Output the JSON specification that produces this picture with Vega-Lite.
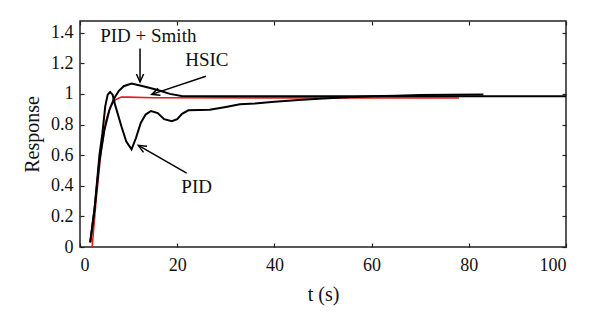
{
  "$schema": "https://vega.github.io/schema/vega-lite/v6.json",
  "width": 486,
  "height": 226,
  "autosize": {"type": "none"},
  "padding": {"left": 80, "top": 21, "right": 34, "bottom": 79},
  "background": "white",
  "config": {
    "view": {"stroke": "#222", "strokeWidth": 1.5},
    "font": "Liberation Serif",
    "text": {"font": "Liberation Serif"},
    "axis": {"grid": false, "domain": false, "labelFont": "Liberation Serif", "titleFont": "Liberation Serif", "labelFontSize": 18, "titleFontSize": 20, "titleFontWeight": "normal", "labelColor": "#111", "titleColor": "#111", "tickColor": "#222", "tickWidth": 1.2}
  },
  "datasets": {
    "curves": [
      {"t": 2.5, "v": 0.0, "s": "HSIC"},
      {"t": 3.3, "v": 0.3, "s": "HSIC"},
      {"t": 4.3, "v": 0.62, "s": "HSIC"},
      {"t": 5.3, "v": 0.82, "s": "HSIC"},
      {"t": 6.3, "v": 0.92, "s": "HSIC"},
      {"t": 7.3, "v": 0.962, "s": "HSIC"},
      {"t": 8.5, "v": 0.98, "s": "HSIC"},
      {"t": 10, "v": 0.979, "s": "HSIC"},
      {"t": 15, "v": 0.975, "s": "HSIC"},
      {"t": 40, "v": 0.974, "s": "HSIC"},
      {"t": 78, "v": 0.973, "s": "HSIC"},

      {"t": 2.1, "v": 0.03, "s": "PID"},
      {"t": 3.0, "v": 0.25, "s": "PID"},
      {"t": 4.0, "v": 0.6, "s": "PID"},
      {"t": 4.6, "v": 0.74, "s": "PID"},
      {"t": 5.2, "v": 0.92, "s": "PID"},
      {"t": 5.7, "v": 0.995, "s": "PID"},
      {"t": 6.2, "v": 1.012, "s": "PID"},
      {"t": 6.7, "v": 0.995, "s": "PID"},
      {"t": 7.3, "v": 0.92, "s": "PID"},
      {"t": 8.5, "v": 0.79, "s": "PID"},
      {"t": 9.5, "v": 0.69, "s": "PID"},
      {"t": 10.6, "v": 0.638, "s": "PID"},
      {"t": 11.5, "v": 0.71, "s": "PID"},
      {"t": 12.5, "v": 0.81, "s": "PID"},
      {"t": 13.5, "v": 0.865, "s": "PID"},
      {"t": 14.6, "v": 0.888, "s": "PID"},
      {"t": 16, "v": 0.875, "s": "PID"},
      {"t": 17.3, "v": 0.835, "s": "PID"},
      {"t": 18.9, "v": 0.821, "s": "PID"},
      {"t": 20, "v": 0.835, "s": "PID"},
      {"t": 21, "v": 0.87, "s": "PID"},
      {"t": 22.3, "v": 0.893, "s": "PID"},
      {"t": 26.7, "v": 0.897, "s": "PID"},
      {"t": 30, "v": 0.915, "s": "PID"},
      {"t": 32.9, "v": 0.932, "s": "PID"},
      {"t": 36, "v": 0.937, "s": "PID"},
      {"t": 40, "v": 0.948, "s": "PID"},
      {"t": 45, "v": 0.96, "s": "PID"},
      {"t": 50, "v": 0.97, "s": "PID"},
      {"t": 55, "v": 0.978, "s": "PID"},
      {"t": 60, "v": 0.984, "s": "PID"},
      {"t": 65, "v": 0.988, "s": "PID"},
      {"t": 70, "v": 0.992, "s": "PID"},
      {"t": 76, "v": 0.994, "s": "PID"},
      {"t": 83, "v": 0.996, "s": "PID"},

      {"t": 2.1, "v": 0.03, "s": "PID + Smith"},
      {"t": 3.0, "v": 0.25, "s": "PID + Smith"},
      {"t": 4.0, "v": 0.56, "s": "PID + Smith"},
      {"t": 5.0, "v": 0.76, "s": "PID + Smith"},
      {"t": 6.0, "v": 0.89, "s": "PID + Smith"},
      {"t": 7.0, "v": 0.97, "s": "PID + Smith"},
      {"t": 8.0, "v": 1.02, "s": "PID + Smith"},
      {"t": 9.0, "v": 1.05, "s": "PID + Smith"},
      {"t": 10.6, "v": 1.067, "s": "PID + Smith"},
      {"t": 13, "v": 1.05, "s": "PID + Smith"},
      {"t": 16, "v": 1.025, "s": "PID + Smith"},
      {"t": 18.5, "v": 1.0, "s": "PID + Smith"},
      {"t": 20.9, "v": 0.986, "s": "PID + Smith"},
      {"t": 30, "v": 0.985, "s": "PID + Smith"},
      {"t": 100, "v": 0.985, "s": "PID + Smith"}
    ],
    "labels": [
      {"t": 14.05, "v": 1.378, "label": "PID + Smith"},
      {"t": 26.1, "v": 1.22, "label": "HSIC"},
      {"t": 24.0, "v": 0.395, "label": "PID"}
    ],
    "arrows": [
      {"t": 12.35, "v": 1.296, "t2": 12.35, "v2": 1.078, "ang": 90},
      {"t": 25.9, "v": 1.115, "t2": 14.75, "v2": 0.997, "ang": 161.7},
      {"t": 21.95, "v": 0.483, "t2": 12.0, "v2": 0.664, "ang": 209.8}
    ]
  },
  "resolve": {"axis": {"x": "independent", "y": "independent"}},
  "layer": [
    {
      "data": {"name": "curves"},
      "transform": [{"filter": "datum.s === 'HSIC'"}],
      "mark": {"type": "line", "color": "#e0201b", "strokeWidth": 1.6, "clip": true},
      "encoding": {
        "x": {"field": "t", "type": "quantitative", "scale": {"domain": [0, 100], "nice": false, "zero": false},
              "axis": {"orient": "bottom", "values": [0, 20, 40, 60, 80, 100], "format": "d", "tickSize": -4, "labelPadding": 13, "title": "t (s)", "titlePadding": 10}},
        "y": {"field": "v", "type": "quantitative", "scale": {"domain": [0, 1.476], "nice": false, "zero": false},
              "axis": {"orient": "left", "values": [0, 0.2, 0.4, 0.6, 0.8, 1, 1.2, 1.4], "format": "~g", "tickSize": -4, "labelPadding": 11, "title": "Response", "titlePadding": 8}}
      }
    },
    {
      "data": {"name": "curves"},
      "transform": [{"filter": "datum.s !== 'HSIC'"}],
      "mark": {"type": "line", "color": "#000", "strokeWidth": 2, "clip": true},
      "encoding": {
        "x": {"field": "t", "type": "quantitative", "axis": null},
        "y": {"field": "v", "type": "quantitative", "axis": null},
        "detail": {"field": "s"}
      }
    },
    {
      "data": {"name": "arrows"},
      "mark": {"type": "rule", "color": "#000", "strokeWidth": 1.5},
      "encoding": {
        "x": {"field": "t", "type": "quantitative", "axis": null},
        "y": {"field": "v", "type": "quantitative", "axis": null},
        "x2": {"field": "t2"},
        "y2": {"field": "v2"}
      }
    },
    {
      "data": {"name": "arrows"},
      "mark": {"type": "point", "shape": "M -1 -0.45 L 0 0 L -1 0.45", "filled": false, "stroke": "#000", "strokeWidth": 1.5, "size": 256, "opacity": 1},
      "encoding": {
        "x": {"field": "t2", "type": "quantitative",
              "axis": {"orient": "top", "values": [0, 20, 40, 60, 80, 100], "tickSize": -4, "labels": false, "title": null}},
        "y": {"field": "v2", "type": "quantitative",
              "axis": {"orient": "right", "values": [0, 0.2, 0.4, 0.6, 0.8, 1, 1.2, 1.4], "tickSize": -4, "labels": false, "title": null}},
        "angle": {"field": "ang", "type": "quantitative", "scale": null}
      }
    },
    {
      "data": {"name": "labels"},
      "mark": {"type": "text", "font": "Liberation Serif", "fontSize": 19, "color": "#111", "align": "center", "baseline": "middle"},
      "encoding": {
        "x": {"field": "t", "type": "quantitative", "axis": null},
        "y": {"field": "v", "type": "quantitative", "axis": null},
        "text": {"field": "label"}
      }
    }
  ]
}
